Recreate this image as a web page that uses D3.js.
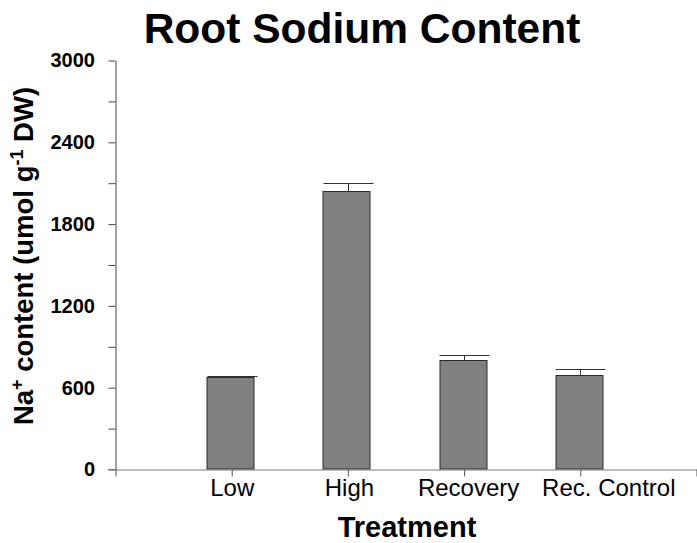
<!DOCTYPE html>
<html>
<head>
<meta charset="utf-8">
<script src="https://cdn.jsdelivr.net/npm/d3@7/dist/d3.min.js"></script>
<style>
  html, body { margin: 0; padding: 0; background: #fff; }
  svg { display: block; font-family: "Liberation Sans", Arial, Helvetica, sans-serif; }
</style>
</head>
<body>
<svg id="chart" width="697" height="543"></svg>
<script>
// Root Na+ content by treatment (umol g-1 DW)
const categories = ["Low", "High", "Recovery", "Rec. Control"];
const means = [675, 2043, 800, 690];
const errors = [12, 62, 40, 44];
const yTicks = [0, 300, 600, 900, 1200, 1500, 1800, 2100, 2400, 2700, 3000];
const yLabelled = [0, 600, 1200, 1800, 2400, 3000];

const svg = d3.select("#chart");

// Category slots 1..4 on a 0..5 axis, so the axis has an empty slot at each end
const x = d3.scaleLinear().domain([0, 5]).range([115.5, 696.5]);
const y = d3.scaleLinear().domain([0, 3000]).range([469.5, 60.5]);

const barW = 47;
const capW = 50;

// Title
svg.append("text")
  .attr("x", 362).attr("y", 43)
  .attr("text-anchor", "middle")
  .attr("font-size", 42.5).attr("font-weight", "bold")
  .attr("fill", "#000")
  .text("Root Sodium Content");

// Bars
svg.append("g").selectAll("rect")
  .data(means)
  .join("rect")
  .attr("x", (d, i) => Math.round(x(i + 1) - barW / 2) - 1)
  .attr("y", d => Math.round(y(d)) + 0.5)
  .attr("width", barW)
  .attr("height", d => y(0) - Math.round(y(d)) - 1)
  .attr("fill", "#808080")
  .attr("stroke", "#2a2a2a")
  .attr("stroke-width", 1);

// Error bars (upper only)
const eb = svg.append("g").attr("stroke", "#333").attr("stroke-width", 1);
means.forEach((m, i) => {
  const cx = Math.round(x(i + 1)) + 0.5;
  const top = Math.round(y(m + errors[i])) + 0.5;
  eb.append("line")
    .attr("x1", cx).attr("x2", cx)
    .attr("y1", Math.round(y(m)) + 0.5).attr("y2", top);
  eb.append("line")
    .attr("x1", cx - capW / 2).attr("x2", cx + capW / 2)
    .attr("y1", top).attr("y2", top);
});

// Y axis
const yAxis = d3.axisLeft(y)
  .tickValues(yTicks)
  .tickSize(7)
  .tickSizeOuter(0)
  .tickFormat(d => yLabelled.includes(d) ? d : "");
const gy = svg.append("g")
  .attr("transform", `translate(${x(0)},0)`)
  .call(yAxis);
gy.select(".domain").attr("stroke", "#444");
gy.selectAll(".tick line").attr("stroke", "#444");
gy.selectAll(".tick text")
  .attr("font-size", 20).attr("font-weight", "bold")
  .attr("font-family", "'Liberation Sans', Arial, sans-serif")
  .attr("fill", "#000")
  .attr("x", -20.5);

// X axis
const xAxis = d3.axisBottom(x)
  .tickValues([0, 1, 2, 3, 4, 5])
  .tickSize(7)
  .tickSizeOuter(0)
  .tickPadding(2)
  .tickFormat(d => (d >= 1 && d <= 4) ? categories[d - 1] : "");
const gx = svg.append("g")
  .attr("transform", `translate(0,${y(0)})`)
  .call(xAxis);
gx.select(".domain").attr("stroke", "#777");
gx.selectAll(".tick line").attr("stroke", "#555");
// the longer labels sit a little right of their tick
const labelShift = { "High": 1, "Recovery": 4, "Rec. Control": 28 };
gx.selectAll(".tick text")
  .attr("font-size", 24)
  .attr("font-family", "'Liberation Sans', Arial, sans-serif")
  .attr("fill", "#000")
  .attr("dx", function () { return labelShift[this.textContent] || 0; });
// x axis line continues a little left of the y axis
gx.append("line")
  .attr("x1", 108).attr("x2", x(0))
  .attr("y1", 0).attr("y2", 0)
  .attr("stroke", "#777");

// X axis title
svg.append("text")
  .attr("x", 407).attr("y", 537)
  .attr("text-anchor", "middle")
  .attr("font-size", 29).attr("font-weight", "bold")
  .attr("fill", "#000")
  .text("Treatment");

// Y axis title with superscripts
const yt = svg.append("text")
  .attr("transform", "translate(33,256) rotate(-90)")
  .attr("text-anchor", "middle")
  .attr("font-size", 27.5).attr("font-weight", "bold")
  .attr("fill", "#000");
yt.append("tspan").text("Na");
yt.append("tspan").attr("dy", -10).attr("font-size", 18).text("+");
yt.append("tspan").attr("dy", 10).text(" content (umol g");
yt.append("tspan").attr("dy", -10).attr("font-size", 18).text("-1");
yt.append("tspan").attr("dy", 10).text(" DW)");
</script>
</body>
</html>
